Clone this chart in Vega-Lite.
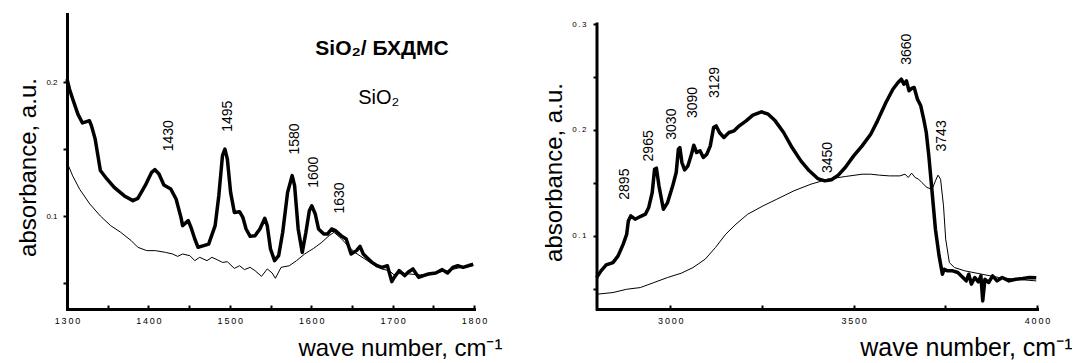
{
  "$schema": "https://vega.github.io/schema/vega-lite/v6.json",
  "background": "white",
  "padding": {"left": 16, "top": 14, "right": 0, "bottom": 0},
  "bounds": "flush",
  "spacing": 123,
  "config": {
    "view": {"stroke": null},
    "font": "Liberation Sans",
    "axis": {
      "grid": false,
      "domainColor": "black",
      "domainWidth": 3,
      "domainCap": "square",
      "tickColor": "black",
      "tickWidth": 2,
      "labelColor": "black",
      "labelFont": "Liberation Sans",
      "labelFlush": false,
      "labelOverlap": false,
      "titleColor": "black",
      "titleFont": "Liberation Sans",
      "titleFontWeight": "normal",
      "titleFontSize": 24
    }
  },
  "hconcat": [
    {
      "width": 407,
      "height": 295,
      "data": {
        "values": [
          {"x": 1300, "y": 0.2025, "s": "SiO₂/БХДМС"},
          {"x": 1303, "y": 0.195, "s": "SiO₂/БХДМС"},
          {"x": 1307, "y": 0.1875, "s": "SiO₂/БХДМС"},
          {"x": 1313.5, "y": 0.176, "s": "SiO₂/БХДМС"},
          {"x": 1319, "y": 0.1696, "s": "SiO₂/БХДМС"},
          {"x": 1324, "y": 0.1706, "s": "SiO₂/БХДМС"},
          {"x": 1327.5, "y": 0.1713, "s": "SiO₂/БХДМС"},
          {"x": 1330, "y": 0.1676, "s": "SiO₂/БХДМС"},
          {"x": 1334.6, "y": 0.1576, "s": "SiO₂/БХДМС"},
          {"x": 1341, "y": 0.134, "s": "SiO₂/БХДМС"},
          {"x": 1349, "y": 0.1277, "s": "SiO₂/БХДМС"},
          {"x": 1358, "y": 0.1214, "s": "SiO₂/БХДМС"},
          {"x": 1370.5, "y": 0.115, "s": "SiO₂/БХДМС"},
          {"x": 1381, "y": 0.1115, "s": "SiO₂/БХДМС"},
          {"x": 1387, "y": 0.1132, "s": "SiO₂/БХДМС"},
          {"x": 1396, "y": 0.1227, "s": "SiO₂/БХДМС"},
          {"x": 1404, "y": 0.1327, "s": "SiO₂/БХДМС"},
          {"x": 1408, "y": 0.1347, "s": "SiO₂/БХДМС"},
          {"x": 1413, "y": 0.1314, "s": "SiO₂/БХДМС"},
          {"x": 1419, "y": 0.1232, "s": "SiO₂/БХДМС"},
          {"x": 1427.5, "y": 0.1202, "s": "SiO₂/БХДМС"},
          {"x": 1434, "y": 0.1127, "s": "SiO₂/БХДМС"},
          {"x": 1440, "y": 0.099, "s": "SiO₂/БХДМС"},
          {"x": 1442, "y": 0.0928, "s": "SiO₂/БХДМС"},
          {"x": 1449, "y": 0.0965, "s": "SiO₂/БХДМС"},
          {"x": 1453, "y": 0.0903, "s": "SiO₂/БХДМС"},
          {"x": 1457, "y": 0.0828, "s": "SiO₂/БХДМС"},
          {"x": 1461, "y": 0.0766, "s": "SiO₂/БХДМС"},
          {"x": 1468, "y": 0.0778, "s": "SiO₂/БХДМС"},
          {"x": 1474, "y": 0.079, "s": "SiO₂/БХДМС"},
          {"x": 1482, "y": 0.0928, "s": "SiO₂/БХДМС"},
          {"x": 1486.5, "y": 0.1152, "s": "SiO₂/БХДМС"},
          {"x": 1491, "y": 0.1451, "s": "SiO₂/БХДМС"},
          {"x": 1494, "y": 0.15, "s": "SiO₂/БХДМС"},
          {"x": 1497, "y": 0.1426, "s": "SiO₂/БХДМС"},
          {"x": 1501, "y": 0.1177, "s": "SiO₂/БХДМС"},
          {"x": 1505.6, "y": 0.1027, "s": "SiO₂/БХДМС"},
          {"x": 1512, "y": 0.1032, "s": "SiO₂/БХДМС"},
          {"x": 1516, "y": 0.099, "s": "SiO₂/БХДМС"},
          {"x": 1520, "y": 0.0903, "s": "SiO₂/БХДМС"},
          {"x": 1525, "y": 0.0848, "s": "SiO₂/БХДМС"},
          {"x": 1531, "y": 0.0853, "s": "SiO₂/БХДМС"},
          {"x": 1537, "y": 0.0903, "s": "SiO₂/БХДМС"},
          {"x": 1543, "y": 0.0983, "s": "SiO₂/БХДМС"},
          {"x": 1546, "y": 0.0928, "s": "SiO₂/БХДМС"},
          {"x": 1550, "y": 0.0753, "s": "SiO₂/БХДМС"},
          {"x": 1555, "y": 0.0666, "s": "SiO₂/БХДМС"},
          {"x": 1560, "y": 0.0703, "s": "SiO₂/БХДМС"},
          {"x": 1565, "y": 0.0878, "s": "SiO₂/БХДМС"},
          {"x": 1571, "y": 0.1177, "s": "SiO₂/БХДМС"},
          {"x": 1576.6, "y": 0.1302, "s": "SiO₂/БХДМС"},
          {"x": 1579.6, "y": 0.1227, "s": "SiO₂/БХДМС"},
          {"x": 1584, "y": 0.0903, "s": "SiO₂/БХДМС"},
          {"x": 1589, "y": 0.0728, "s": "SiO₂/БХДМС"},
          {"x": 1593.5, "y": 0.0878, "s": "SiO₂/БХДМС"},
          {"x": 1597.7, "y": 0.104, "s": "SiO₂/БХДМС"},
          {"x": 1600.7, "y": 0.1077, "s": "SiO₂/БХДМС"},
          {"x": 1605, "y": 0.1015, "s": "SiO₂/БХДМС"},
          {"x": 1609, "y": 0.0903, "s": "SiO₂/БХДМС"},
          {"x": 1615.5, "y": 0.0865, "s": "SiO₂/БХДМС"},
          {"x": 1620, "y": 0.0865, "s": "SiO₂/БХДМС"},
          {"x": 1625, "y": 0.0903, "s": "SiO₂/БХДМС"},
          {"x": 1630, "y": 0.089, "s": "SiO₂/БХДМС"},
          {"x": 1636.6, "y": 0.0853, "s": "SiO₂/БХДМС"},
          {"x": 1643, "y": 0.0828, "s": "SiO₂/БХДМС"},
          {"x": 1649, "y": 0.0716, "s": "SiO₂/БХДМС"},
          {"x": 1655.6, "y": 0.0741, "s": "SiO₂/БХДМС"},
          {"x": 1660, "y": 0.0773, "s": "SiO₂/БХДМС"},
          {"x": 1664, "y": 0.0716, "s": "SiO₂/БХДМС"},
          {"x": 1668, "y": 0.0691, "s": "SiO₂/БХДМС"},
          {"x": 1674.6, "y": 0.0653, "s": "SiO₂/БХДМС"},
          {"x": 1681, "y": 0.0628, "s": "SiO₂/БХДМС"},
          {"x": 1687, "y": 0.0616, "s": "SiO₂/БХДМС"},
          {"x": 1693.6, "y": 0.0628, "s": "SiO₂/БХДМС"},
          {"x": 1699, "y": 0.0509, "s": "SiO₂/БХДМС"},
          {"x": 1702, "y": 0.0541, "s": "SiO₂/БХДМС"},
          {"x": 1708, "y": 0.0591, "s": "SiO₂/БХДМС"},
          {"x": 1715, "y": 0.0554, "s": "SiO₂/БХДМС"},
          {"x": 1719, "y": 0.0579, "s": "SiO₂/БХДМС"},
          {"x": 1725, "y": 0.0604, "s": "SiO₂/БХДМС"},
          {"x": 1732, "y": 0.0541, "s": "SiO₂/БХДМС"},
          {"x": 1738, "y": 0.0554, "s": "SiO₂/БХДМС"},
          {"x": 1744, "y": 0.0566, "s": "SiO₂/БХДМС"},
          {"x": 1753, "y": 0.0574, "s": "SiO₂/БХДМС"},
          {"x": 1761, "y": 0.0599, "s": "SiO₂/БХДМС"},
          {"x": 1767.5, "y": 0.0574, "s": "SiO₂/БХДМС"},
          {"x": 1774, "y": 0.0616, "s": "SiO₂/БХДМС"},
          {"x": 1780, "y": 0.0628, "s": "SiO₂/БХДМС"},
          {"x": 1786.5, "y": 0.0616, "s": "SiO₂/БХДМС"},
          {"x": 1793, "y": 0.0628, "s": "SiO₂/БХДМС"},
          {"x": 1799, "y": 0.064, "s": "SiO₂/БХДМС"},
          {"x": 1300, "y": 0.1401, "s": "SiO₂"},
          {"x": 1307, "y": 0.13, "s": "SiO₂"},
          {"x": 1315.6, "y": 0.12, "s": "SiO₂"},
          {"x": 1328, "y": 0.109, "s": "SiO₂"},
          {"x": 1341, "y": 0.1, "s": "SiO₂"},
          {"x": 1353.6, "y": 0.0928, "s": "SiO₂"},
          {"x": 1366, "y": 0.0878, "s": "SiO₂"},
          {"x": 1379, "y": 0.0815, "s": "SiO₂"},
          {"x": 1387, "y": 0.0766, "s": "SiO₂"},
          {"x": 1398, "y": 0.0741, "s": "SiO₂"},
          {"x": 1408.5, "y": 0.0741, "s": "SiO₂"},
          {"x": 1421, "y": 0.0728, "s": "SiO₂"},
          {"x": 1429.6, "y": 0.0716, "s": "SiO₂"},
          {"x": 1436, "y": 0.0698, "s": "SiO₂"},
          {"x": 1442, "y": 0.0716, "s": "SiO₂"},
          {"x": 1451, "y": 0.0703, "s": "SiO₂"},
          {"x": 1457, "y": 0.0666, "s": "SiO₂"},
          {"x": 1463, "y": 0.0691, "s": "SiO₂"},
          {"x": 1472, "y": 0.0666, "s": "SiO₂"},
          {"x": 1478, "y": 0.0691, "s": "SiO₂"},
          {"x": 1484.5, "y": 0.0673, "s": "SiO₂"},
          {"x": 1491, "y": 0.0653, "s": "SiO₂"},
          {"x": 1497, "y": 0.0658, "s": "SiO₂"},
          {"x": 1505.6, "y": 0.0608, "s": "SiO₂"},
          {"x": 1512, "y": 0.0628, "s": "SiO₂"},
          {"x": 1518, "y": 0.0599, "s": "SiO₂"},
          {"x": 1525, "y": 0.0616, "s": "SiO₂"},
          {"x": 1531, "y": 0.0591, "s": "SiO₂"},
          {"x": 1539, "y": 0.0549, "s": "SiO₂"},
          {"x": 1546, "y": 0.0604, "s": "SiO₂"},
          {"x": 1552, "y": 0.0574, "s": "SiO₂"},
          {"x": 1556, "y": 0.0534, "s": "SiO₂"},
          {"x": 1563, "y": 0.0616, "s": "SiO₂"},
          {"x": 1573, "y": 0.0628, "s": "SiO₂"},
          {"x": 1582, "y": 0.0666, "s": "SiO₂"},
          {"x": 1592, "y": 0.0716, "s": "SiO₂"},
          {"x": 1603, "y": 0.0758, "s": "SiO₂"},
          {"x": 1613, "y": 0.0803, "s": "SiO₂"},
          {"x": 1622, "y": 0.0853, "s": "SiO₂"},
          {"x": 1628, "y": 0.0878, "s": "SiO₂"},
          {"x": 1636.6, "y": 0.0833, "s": "SiO₂"},
          {"x": 1645, "y": 0.0778, "s": "SiO₂"},
          {"x": 1653.5, "y": 0.0728, "s": "SiO₂"},
          {"x": 1666, "y": 0.0678, "s": "SiO₂"},
          {"x": 1679, "y": 0.0628, "s": "SiO₂"},
          {"x": 1687, "y": 0.0603, "s": "SiO₂"},
          {"x": 1696, "y": 0.0591, "s": "SiO₂"},
          {"x": 1702, "y": 0.0559, "s": "SiO₂"},
          {"x": 1710, "y": 0.0574, "s": "SiO₂"},
          {"x": 1721, "y": 0.0566, "s": "SiO₂"},
          {"x": 1734, "y": 0.0559, "s": "SiO₂"},
          {"x": 1750, "y": 0.0574, "s": "SiO₂"},
          {"x": 1767.5, "y": 0.0591, "s": "SiO₂"},
          {"x": 1784, "y": 0.0616, "s": "SiO₂"},
          {"x": 1799, "y": 0.0628, "s": "SiO₂"}
        ]
      },
      "layer": [
        {
          "mark": {"type": "line", "color": "black", "strokeJoin": "round"},
          "encoding": {
            "x": {
              "field": "x", "type": "quantitative",
              "scale": {"domain": [1300, 1800], "nice": false, "zero": false},
              "axis": {
                "values": [1300, 1350, 1400, 1450, 1500, 1550, 1600, 1650, 1700, 1750, 1800],
                "format": "d",
                "labelExpr": "datum.value % 100 === 0 ? join(split(datum.label, ''), '\u2009') : ''",
                "tickSize": -4,
                "labelFontSize": 9,
                "labelBaseline": "top",
                "labelPadding": 11,
                "title": "wave number, cm⁻¹",
                "titleX": 435,
                "titleY": 46,
                "titleAlign": "right",
                "titleBaseline": "alphabetic"
              }
            },
            "y": {
              "field": "y", "type": "quantitative",
              "scale": {"domain": [0.03044, 0.2511], "nice": false, "zero": false},
              "axis": {
                "values": [0.05, 0.1, 0.15, 0.2],
                "labelExpr": "abs(datum.value * 10 - round(datum.value * 10)) < 0.001 ? format(datum.value, '.1f') : ''",
                "tickSize": 4,
                "labelFontSize": 8,
                "labelPadding": 6,
                "title": "absorbance, a.u.",
                "titleAngle": 270,
                "titleX": -31.7,
                "titleY": 153,
                "titleAlign": "center",
                "titleBaseline": "alphabetic"
              }
            },
            "strokeWidth": {
              "field": "s", "type": "nominal",
              "scale": {"domain": ["SiO₂/БХДМС", "SiO₂"], "range": [3.5, 1]},
              "legend": null
            }
          }
        },
        {
          "data": {
            "values": [
              {"x": 1425.4, "y": 0.16, "label": "1430"},
              {"x": 1497.2, "y": 0.1746, "label": "1495"},
              {"x": 1579.6, "y": 0.1576, "label": "1580"},
              {"x": 1604, "y": 0.1327, "label": "1600"},
              {"x": 1635.3, "y": 0.1135, "label": "1630"}
            ]
          },
          "mark": {"type": "text", "angle": 270, "align": "center", "baseline": "middle", "fontSize": 14, "color": "black"},
          "encoding": {
            "x": {"field": "x", "type": "quantitative"},
            "y": {"field": "y", "type": "quantitative"},
            "text": {"field": "label"}
          }
        },
        {
          "data": {"values": [{"x": 1687, "y": 0.2204, "label": "SiO₂/ БХДМС"}]},
          "mark": {"type": "text", "align": "center", "baseline": "alphabetic", "fontSize": 21, "fontWeight": "bold", "color": "black"},
          "encoding": {
            "x": {"field": "x", "type": "quantitative"},
            "y": {"field": "y", "type": "quantitative"},
            "text": {"field": "label"}
          }
        },
        {
          "data": {"values": [{"x": 1683, "y": 0.1838, "label": "SiO₂"}]},
          "mark": {"type": "text", "align": "center", "baseline": "alphabetic", "fontSize": 20, "color": "black"},
          "encoding": {
            "x": {"field": "x", "type": "quantitative"},
            "y": {"field": "y", "type": "quantitative"},
            "text": {"field": "label"}
          }
        }
      ]
    },
    {
      "width": 440,
      "height": 295,
      "data": {
        "values": [
          {"x": 2799, "y": 0.0605, "s": "SiO₂/БХДМС"},
          {"x": 2811, "y": 0.0668, "s": "SiO₂/БХДМС"},
          {"x": 2825, "y": 0.0724, "s": "SiO₂/БХДМС"},
          {"x": 2843.6, "y": 0.0746, "s": "SiO₂/БХДМС"},
          {"x": 2857.5, "y": 0.0809, "s": "SiO₂/БХДМС"},
          {"x": 2871.5, "y": 0.092, "s": "SiO₂/БХДМС"},
          {"x": 2881, "y": 0.1014, "s": "SiO₂/БХДМС"},
          {"x": 2885.5, "y": 0.114, "s": "SiO₂/БХДМС"},
          {"x": 2892, "y": 0.1187, "s": "SiO₂/БХДМС"},
          {"x": 2904, "y": 0.1156, "s": "SiO₂/БХДМС"},
          {"x": 2918, "y": 0.1181, "s": "SiO₂/БХДМС"},
          {"x": 2932, "y": 0.1203, "s": "SiO₂/БХДМС"},
          {"x": 2941, "y": 0.1266, "s": "SiO₂/БХДМС"},
          {"x": 2950.6, "y": 0.1408, "s": "SiO₂/БХДМС"},
          {"x": 2957, "y": 0.1628, "s": "SiO₂/БХДМС"},
          {"x": 2962, "y": 0.1638, "s": "SiO₂/БХДМС"},
          {"x": 2969, "y": 0.1471, "s": "SiO₂/БХДМС"},
          {"x": 2981, "y": 0.125, "s": "SiO₂/БХДМС"},
          {"x": 2992.5, "y": 0.1313, "s": "SiO₂/БХДМС"},
          {"x": 3006.5, "y": 0.1471, "s": "SiO₂/БХДМС"},
          {"x": 3016, "y": 0.1597, "s": "SiO₂/БХДМС"},
          {"x": 3022, "y": 0.1817, "s": "SiO₂/БХДМС"},
          {"x": 3026, "y": 0.1833, "s": "SiO₂/БХДМС"},
          {"x": 3031.6, "y": 0.1691, "s": "SiO₂/БХДМС"},
          {"x": 3039, "y": 0.1622, "s": "SiO₂/БХДМС"},
          {"x": 3048, "y": 0.166, "s": "SiO₂/БХДМС"},
          {"x": 3057.7, "y": 0.177, "s": "SiO₂/БХДМС"},
          {"x": 3064, "y": 0.1855, "s": "SiO₂/БХДМС"},
          {"x": 3071.7, "y": 0.1786, "s": "SiO₂/БХДМС"},
          {"x": 3081, "y": 0.1802, "s": "SiO₂/БХДМС"},
          {"x": 3090, "y": 0.1739, "s": "SiO₂/БХДМС"},
          {"x": 3099.6, "y": 0.177, "s": "SiO₂/БХДМС"},
          {"x": 3109, "y": 0.1849, "s": "SiO₂/БХДМС"},
          {"x": 3118, "y": 0.2022, "s": "SiO₂/БХДМС"},
          {"x": 3124.8, "y": 0.2038, "s": "SiO₂/БХДМС"},
          {"x": 3134, "y": 0.1975, "s": "SiO₂/БХДМС"},
          {"x": 3146, "y": 0.1928, "s": "SiO₂/БХДМС"},
          {"x": 3160, "y": 0.1975, "s": "SiO₂/БХДМС"},
          {"x": 3174, "y": 0.1991, "s": "SiO₂/БХДМС"},
          {"x": 3188, "y": 0.2038, "s": "SiO₂/БХДМС"},
          {"x": 3206.7, "y": 0.2085, "s": "SiO₂/БХДМС"},
          {"x": 3225, "y": 0.2139, "s": "SiO₂/БХДМС"},
          {"x": 3248.6, "y": 0.217, "s": "SiO₂/БХДМС"},
          {"x": 3267, "y": 0.2148, "s": "SiO₂/БХДМС"},
          {"x": 3286, "y": 0.2085, "s": "SiO₂/БХДМС"},
          {"x": 3309, "y": 0.1975, "s": "SiO₂/БХДМС"},
          {"x": 3332, "y": 0.1833, "s": "SiO₂/БХДМС"},
          {"x": 3356, "y": 0.1707, "s": "SiO₂/БХДМС"},
          {"x": 3379, "y": 0.1613, "s": "SiO₂/БХДМС"},
          {"x": 3402, "y": 0.154, "s": "SiO₂/БХДМС"},
          {"x": 3421, "y": 0.1518, "s": "SiO₂/БХДМС"},
          {"x": 3439.5, "y": 0.1528, "s": "SiO₂/БХДМС"},
          {"x": 3458, "y": 0.1572, "s": "SiO₂/БХДМС"},
          {"x": 3477, "y": 0.1644, "s": "SiO₂/БХДМС"},
          {"x": 3500, "y": 0.1754, "s": "SiO₂/БХДМС"},
          {"x": 3523, "y": 0.1849, "s": "SiO₂/БХДМС"},
          {"x": 3546.5, "y": 0.1959, "s": "SiO₂/БХДМС"},
          {"x": 3565, "y": 0.2085, "s": "SiO₂/БХДМС"},
          {"x": 3588, "y": 0.2258, "s": "SiO₂/БХДМС"},
          {"x": 3607, "y": 0.2384, "s": "SiO₂/БХДМС"},
          {"x": 3621, "y": 0.2447, "s": "SiO₂/БХДМС"},
          {"x": 3630, "y": 0.2479, "s": "SiO₂/БХДМС"},
          {"x": 3637, "y": 0.2431, "s": "SiO₂/БХДМС"},
          {"x": 3644, "y": 0.2463, "s": "SiO₂/БХДМС"},
          {"x": 3651, "y": 0.2369, "s": "SiO₂/БХДМС"},
          {"x": 3658, "y": 0.2391, "s": "SiO₂/БХДМС"},
          {"x": 3665, "y": 0.24, "s": "SiO₂/БХДМС"},
          {"x": 3674, "y": 0.229, "s": "SiO₂/БХДМС"},
          {"x": 3683, "y": 0.2227, "s": "SiO₂/БХДМС"},
          {"x": 3691, "y": 0.2101, "s": "SiO₂/БХДМС"},
          {"x": 3698, "y": 0.1975, "s": "SiO₂/БХДМС"},
          {"x": 3705, "y": 0.1754, "s": "SiO₂/БХДМС"},
          {"x": 3714, "y": 0.1408, "s": "SiO₂/БХДМС"},
          {"x": 3723, "y": 0.1061, "s": "SiO₂/БХДМС"},
          {"x": 3733, "y": 0.0809, "s": "SiO₂/БХДМС"},
          {"x": 3742, "y": 0.0636, "s": "SiO₂/БХДМС"},
          {"x": 3747, "y": 0.0683, "s": "SiO₂/БХДМС"},
          {"x": 3756, "y": 0.0668, "s": "SiO₂/БХДМС"},
          {"x": 3770, "y": 0.0668, "s": "SiO₂/БХДМС"},
          {"x": 3784, "y": 0.0652, "s": "SiO₂/БХДМС"},
          {"x": 3798, "y": 0.0605, "s": "SiO₂/БХДМС"},
          {"x": 3807, "y": 0.0573, "s": "SiO₂/БХДМС"},
          {"x": 3814, "y": 0.0636, "s": "SiO₂/БХДМС"},
          {"x": 3821, "y": 0.0542, "s": "SiO₂/БХДМС"},
          {"x": 3830.5, "y": 0.0605, "s": "SiO₂/БХДМС"},
          {"x": 3840, "y": 0.0564, "s": "SiO₂/БХДМС"},
          {"x": 3847, "y": 0.062, "s": "SiO₂/БХДМС"},
          {"x": 3852, "y": 0.0384, "s": "SiO₂/БХДМС"},
          {"x": 3858, "y": 0.0589, "s": "SiO₂/БХДМС"},
          {"x": 3868, "y": 0.0558, "s": "SiO₂/БХДМС"},
          {"x": 3879, "y": 0.062, "s": "SiO₂/БХДМС"},
          {"x": 3891, "y": 0.0573, "s": "SiO₂/БХДМС"},
          {"x": 3905, "y": 0.0605, "s": "SiO₂/БХДМС"},
          {"x": 3923.5, "y": 0.0573, "s": "SiO₂/БХДМС"},
          {"x": 3942, "y": 0.0589, "s": "SiO₂/БХДМС"},
          {"x": 3961, "y": 0.0595, "s": "SiO₂/БХДМС"},
          {"x": 3979.5, "y": 0.0605, "s": "SiO₂/БХДМС"},
          {"x": 3998, "y": 0.0602, "s": "SiO₂/БХДМС"},
          {"x": 2799, "y": 0.0447, "s": "SiO₂"},
          {"x": 2843.6, "y": 0.0463, "s": "SiO₂"},
          {"x": 2881, "y": 0.0494, "s": "SiO₂"},
          {"x": 2918, "y": 0.051, "s": "SiO₂"},
          {"x": 2955, "y": 0.0557, "s": "SiO₂"},
          {"x": 2992.5, "y": 0.0605, "s": "SiO₂"},
          {"x": 3030, "y": 0.0646, "s": "SiO₂"},
          {"x": 3062, "y": 0.0699, "s": "SiO₂"},
          {"x": 3095, "y": 0.0778, "s": "SiO₂"},
          {"x": 3123, "y": 0.0888, "s": "SiO₂"},
          {"x": 3151, "y": 0.1014, "s": "SiO₂"},
          {"x": 3179, "y": 0.1109, "s": "SiO₂"},
          {"x": 3211, "y": 0.1203, "s": "SiO₂"},
          {"x": 3253, "y": 0.1282, "s": "SiO₂"},
          {"x": 3290.5, "y": 0.1345, "s": "SiO₂"},
          {"x": 3337, "y": 0.1424, "s": "SiO₂"},
          {"x": 3383.6, "y": 0.1487, "s": "SiO₂"},
          {"x": 3430, "y": 0.1534, "s": "SiO₂"},
          {"x": 3477, "y": 0.1559, "s": "SiO₂"},
          {"x": 3523, "y": 0.1581, "s": "SiO₂"},
          {"x": 3546.5, "y": 0.1581, "s": "SiO₂"},
          {"x": 3570, "y": 0.1572, "s": "SiO₂"},
          {"x": 3598, "y": 0.1565, "s": "SiO₂"},
          {"x": 3626, "y": 0.1565, "s": "SiO₂"},
          {"x": 3640, "y": 0.1581, "s": "SiO₂"},
          {"x": 3649, "y": 0.155, "s": "SiO₂"},
          {"x": 3658, "y": 0.1591, "s": "SiO₂"},
          {"x": 3667.6, "y": 0.155, "s": "SiO₂"},
          {"x": 3677, "y": 0.1534, "s": "SiO₂"},
          {"x": 3686, "y": 0.1502, "s": "SiO₂"},
          {"x": 3700, "y": 0.1455, "s": "SiO₂"},
          {"x": 3714, "y": 0.1439, "s": "SiO₂"},
          {"x": 3723, "y": 0.1518, "s": "SiO₂"},
          {"x": 3730, "y": 0.1572, "s": "SiO₂"},
          {"x": 3737, "y": 0.1534, "s": "SiO₂"},
          {"x": 3745, "y": 0.1282, "s": "SiO₂"},
          {"x": 3751, "y": 0.0967, "s": "SiO₂"},
          {"x": 3761, "y": 0.0746, "s": "SiO₂"},
          {"x": 3775, "y": 0.0699, "s": "SiO₂"},
          {"x": 3803, "y": 0.0668, "s": "SiO₂"},
          {"x": 3849.6, "y": 0.0636, "s": "SiO₂"},
          {"x": 3896, "y": 0.0605, "s": "SiO₂"},
          {"x": 3942, "y": 0.0589, "s": "SiO₂"},
          {"x": 3998, "y": 0.0573, "s": "SiO₂"}
        ]
      },
      "layer": [
        {
          "mark": {"type": "line", "color": "black", "strokeJoin": "round"},
          "encoding": {
            "x": {
              "field": "x", "type": "quantitative",
              "scale": {"domain": [2800, 4000], "nice": false, "zero": false},
              "axis": {
                "values": [3000, 3250, 3500, 3750, 4000],
                "format": "d",
                "labelExpr": "datum.value % 500 === 0 ? join(split(datum.label, ''), '\u2009') : ''",
                "tickSize": -4,
                "labelFontSize": 9,
                "labelBaseline": "top",
                "labelPadding": 11,
                "title": "wave number, cm⁻¹",
                "titleFontSize": 25,
                "titleX": 475,
                "titleY": 46,
                "titleAlign": "right",
                "titleBaseline": "alphabetic"
              }
            },
            "y": {
              "field": "y", "type": "quantitative",
              "scale": {"domain": [0.03075, 0.30945], "nice": false, "zero": false},
              "axis": {
                "domain": false,
                "values": [0.05, 0.1, 0.15, 0.2, 0.25, 0.3],
                "labelExpr": "abs(datum.value * 10 - round(datum.value * 10)) < 0.001 ? join(split(format(datum.value, '.1f'), ''), '\u2009') : ''",
                "tickSize": 4,
                "labelFontSize": 8,
                "labelPadding": 7,
                "title": "absorbance, a.u.",
                "titleAngle": 270,
                "titleX": -36,
                "titleY": 158,
                "titleAlign": "center",
                "titleBaseline": "alphabetic"
              }
            },
            "strokeWidth": {
              "field": "s", "type": "nominal",
              "scale": {"domain": ["SiO₂/БХДМС", "SiO₂"], "range": [3.5, 1]},
              "legend": null
            }
          }
        },
        {
          "data": {"values": [{}]},
          "mark": {"type": "rule", "color": "black", "strokeWidth": 3, "strokeCap": "square"},
          "encoding": {
            "x": {"datum": 2800, "type": "quantitative"},
            "y": {"datum": 0.03075, "type": "quantitative"},
            "y2": {"datum": 0.3}
          }
        },
        {
          "data": {
            "values": [
              {"x": 2876, "y": 0.1487, "label": "2895"},
              {"x": 2941, "y": 0.1849, "label": "2965"},
              {"x": 3004.7, "y": 0.2054, "label": "3030"},
              {"x": 3062, "y": 0.2258, "label": "3090"},
              {"x": 3123, "y": 0.2447, "label": "3129"},
              {"x": 3430, "y": 0.1739, "label": "3450"},
              {"x": 3646, "y": 0.2762, "label": "3660"},
              {"x": 3742, "y": 0.1943, "label": "3743"}
            ]
          },
          "mark": {"type": "text", "angle": 270, "align": "center", "baseline": "middle", "fontSize": 14, "color": "black"},
          "encoding": {
            "x": {"field": "x", "type": "quantitative"},
            "y": {"field": "y", "type": "quantitative"},
            "text": {"field": "label"}
          }
        }
      ]
    }
  ]
}
